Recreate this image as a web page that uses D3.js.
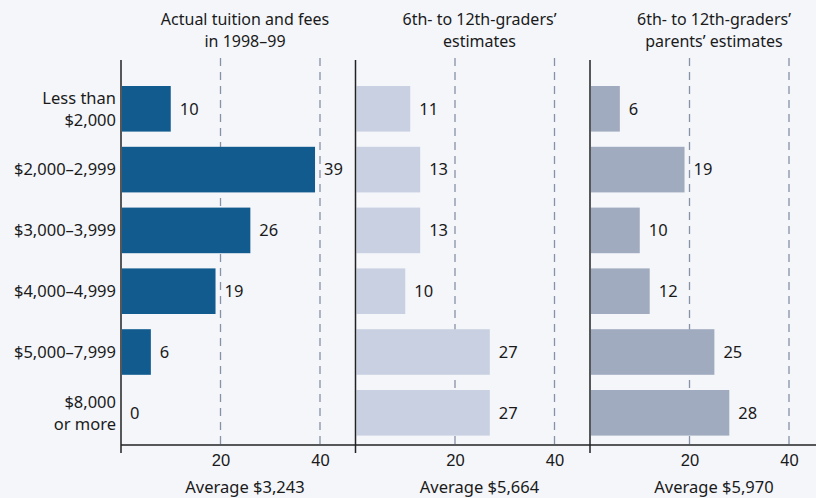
<!DOCTYPE html>
<html lang="en">
<head>
<meta charset="utf-8">
<title>tuition estimates</title>
<script src="https://d3js.org/d3.v7.min.js"></script>
<style>
  body{margin:0;background:#f4f6fa;font-family:"Noto Sans",sans-serif;}
  text{fill:#1a1a1a;font-size:16.5px;}
  text.title{font-size:16px;}
</style>
</head>
<body>
<div id="chart"></div>
<script>
// price ranges (rows), percent in each range per panel
var categories = ["Less than\n$2,000", "$2,000\u20132,999", "$3,000\u20133,999", "$4,000\u20134,999", "$5,000\u20137,999", "$8,000\nor more"]
var actual = [10, 39, 26, 19, 6, 0]
var students = [11, 13, 13, 10, 27, 27]
var parents = [6, 19, 10, 12, 25, 28]
var titles = [["Actual tuition and fees", "in 1998\u201399"], ["6th- to 12th-graders\u2019", "estimates"], ["6th- to 12th-graders\u2019", "parents\u2019 estimates"]]
var averages = ["Average $3,243", "Average $5,664", "Average $5,970"]
var tickValues = [20, 40]

var w = 816, h = 498
var axisY = 445
var panels = [
  {values: actual, x0: 121, color: "#115b8e"},
  {values: students, x0: 355.5, color: "#c9d0e2"},
  {values: parents, x0: 590, color: "#a0abbf"}
]

var svg = d3.select("#chart").append("svg").attr("width", w).attr("height", h)

var yScale = d3.scaleBand().domain(d3.range(categories.length))
  .range([78.4, 443.2]).paddingInner(0.25).paddingOuter(0.125)

// row labels
svg.selectAll("text.cat")
  .data(categories)
  .enter()
  .append("text")
  .attr("class", "cat")
  .attr("text-anchor", "end")
  .each(function(d, i){
    var lines = d.split("\n")
    var cy = yScale(i) + yScale.bandwidth() / 2
    var t = d3.select(this)
    lines.forEach(function(l, j){
      t.append("tspan")
        .attr("x", 116)
        .attr("y", cy + (j - (lines.length - 1) / 2) * 22)
        .attr("dy", "0.35em")
        .text(l)
    })
  })

panels.forEach(function(p, k){
  var xScale = d3.scaleLinear().domain([0, 40]).range([p.x0, p.x0 + 199])
  var g = svg.append("g")

  // dashed grid
  g.selectAll("line.grid")
    .data(tickValues)
    .enter()
    .append("line")
    .attr("x1", function(d){ return xScale(d) })
    .attr("x2", function(d){ return xScale(d) })
    .attr("y1", 58)
    .attr("y2", axisY)
    .attr("stroke", "#8792a8")
    .attr("stroke-width", 1.3)
    .attr("stroke-dasharray", "8,6")

  g.selectAll("rect")
    .data(p.values)
    .enter()
    .append("rect")
    .attr("x", xScale(0) + 1)
    .attr("y", function(d, i){ return yScale(i) })
    .attr("width", function(d){ return Math.max(0, xScale(d) - xScale(0) - 1) })
    .attr("height", yScale.bandwidth())
    .attr("fill", p.color)

  g.selectAll("text.val")
    .data(p.values)
    .enter()
    .append("text")
    .attr("class", "val")
    .attr("x", function(d){ return xScale(d) + 9 })
    .attr("y", function(d, i){ return yScale(i) + yScale.bandwidth() / 2 })
    .attr("dy", "0.35em")
    .text(function(d){ return d })

  // vertical axis line, with tick below baseline
  g.append("line")
    .attr("x1", xScale(0)).attr("x2", xScale(0))
    .attr("y1", 60).attr("y2", axisY + 8)
    .attr("stroke", "#222").attr("stroke-width", 1.5)

  var axis = d3.axisBottom(xScale).tickValues(tickValues).tickSize(0).tickPadding(9)
  var ax = g.append("g").attr("transform", "translate(0," + axisY + ")").call(axis)
  ax.select(".domain").remove()
  ax.selectAll("text").attr("font-size", null).attr("font-family", null)
    .style("font-size", "16.5px").attr("fill", "#1a1a1a")

  var cx = p.x0 + 124
  titles[k].forEach(function(l, j){
    g.append("text").attr("class", "title")
      .attr("text-anchor", "middle")
      .attr("x", cx).attr("y", 25 + j * 22).text(l)
  })

  g.append("text")
    .attr("text-anchor", "middle")
    .attr("x", cx)
    .attr("y", 493)
    .text(averages[k])
})

svg.append("line")
  .attr("x1", panels[0].x0).attr("x2", w)
  .attr("y1", axisY).attr("y2", axisY)
  .attr("stroke", "#222").attr("stroke-width", 1.5)
</script>
</body>
</html>
